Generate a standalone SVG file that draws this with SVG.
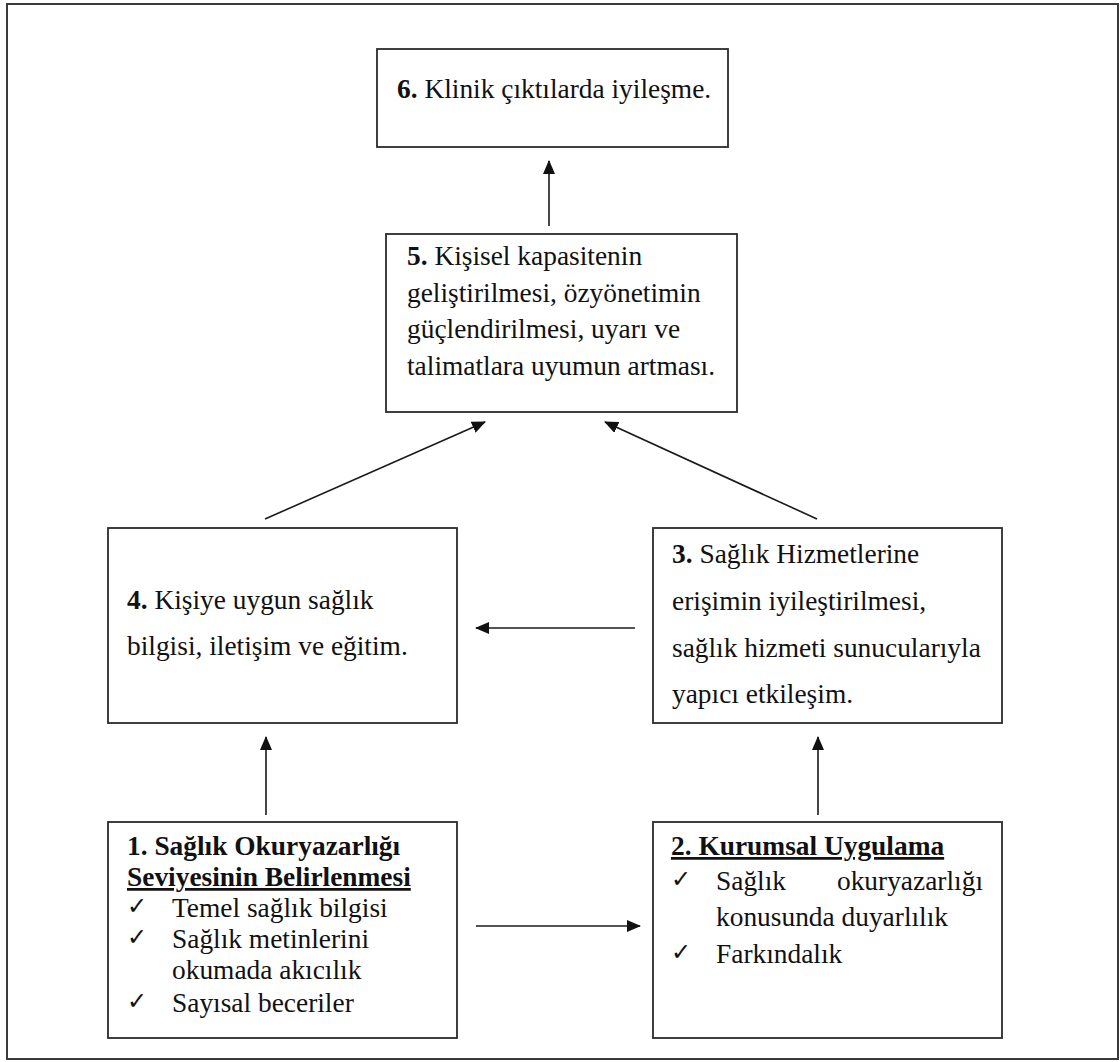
<svg xmlns="http://www.w3.org/2000/svg" width="1120" height="1062" viewBox="0 0 1120 1062">
  <style>
    .frame { fill: none; stroke: #3a3a3a; stroke-width: 2; }
    .box { fill: #ffffff; stroke: #2b2b2b; stroke-width: 1.8; }
    .link { fill: none; stroke: #1a1a1a; stroke-width: 1.6; }
    .t { font-family: "Liberation Serif", "Times New Roman", serif; font-size: 27.4px; fill: #111111; }
    .b { font-weight: bold; }
    .u { text-decoration: underline; }
    .chk { font-family: "DejaVu Sans", sans-serif; font-size: 24px; fill: #111111; }
  </style>
  <defs>
    <marker id="head" markerUnits="userSpaceOnUse" markerWidth="14" markerHeight="12" viewBox="0 0 14 12" refX="13" refY="6" orient="auto">
      <path d="M0,0 L14,6 L0,12 Z" fill="#111111"/>
    </marker>
  </defs>

  <rect width="1120" height="1062" fill="#ffffff"/>
  <rect class="frame" x="7" y="4" width="1111" height="1055"/>

  <g id="connectors">
    <line class="link" x1="549" y1="226" x2="549" y2="161" marker-end="url(#head)"/>
    <line class="link" x1="265" y1="519" x2="485" y2="422" marker-end="url(#head)"/>
    <line class="link" x1="817" y1="519" x2="605" y2="422" marker-end="url(#head)"/>
    <line class="link" x1="635" y1="628" x2="476" y2="628" marker-end="url(#head)"/>
    <line class="link" x1="266" y1="815" x2="266" y2="737" marker-end="url(#head)"/>
    <line class="link" x1="818" y1="815" x2="818" y2="737" marker-end="url(#head)"/>
    <line class="link" x1="476" y1="926" x2="640" y2="926" marker-end="url(#head)"/>
  </g>

  <g id="node6">
    <rect class="box" x="377" y="49" width="351" height="98"/>
    <text class="t" x="397" y="98"><tspan class="b">6.</tspan> Klinik çıktılarda iyileşme.</text>
  </g>

  <g id="node5">
    <rect class="box" x="386" y="234" width="351" height="178"/>
    <text class="t" x="407" y="265"><tspan class="b">5.</tspan> Kişisel kapasitenin</text>
    <text class="t" x="407" y="302">geliştirilmesi, özyönetimin</text>
    <text class="t" x="407" y="338">güçlendirilmesi, uyarı ve</text>
    <text class="t" x="407" y="375">talimatlara uyumun artması.</text>
  </g>

  <g id="node4">
    <rect class="box" x="108" y="528" width="349" height="195"/>
    <text class="t" x="127" y="609"><tspan class="b">4.</tspan> Kişiye uygun sağlık</text>
    <text class="t" x="127" y="655">bilgisi, iletişim ve eğitim.</text>
  </g>

  <g id="node3">
    <rect class="box" x="653" y="528" width="349" height="195"/>
    <text class="t" x="672" y="563"><tspan class="b">3.</tspan> Sağlık Hizmetlerine</text>
    <text class="t" x="672" y="610">erişimin iyileştirilmesi,</text>
    <text class="t" x="672" y="657">sağlık hizmeti sunucularıyla</text>
    <text class="t" x="672" y="703">yapıcı etkileşim.</text>
  </g>

  <g id="node1">
    <rect class="box" x="108" y="822" width="349" height="216"/>
    <text class="t b" x="127" y="855">1. Sağlık Okuryazarlığı</text>
    <text class="t b u" x="127" y="886">Seviyesinin Belirlenmesi</text>
    <text class="chk" x="127" y="914">✓</text>
    <text class="t" x="172" y="917">Temel sağlık bilgisi</text>
    <text class="chk" x="127" y="945">✓</text>
    <text class="t" x="172" y="948">Sağlık metinlerini</text>
    <text class="t" x="172" y="979">okumada akıcılık</text>
    <text class="chk" x="127" y="1009">✓</text>
    <text class="t" x="172" y="1012">Sayısal beceriler</text>
  </g>

  <g id="node2">
    <rect class="box" x="653" y="822" width="349" height="216"/>
    <text class="t b u" x="671" y="855">2. Kurumsal Uygulama</text>
    <text class="chk" x="671" y="887">✓</text>
    <text class="t" x="716" y="890">Sağlık</text>
    <text class="t" x="983" y="890" text-anchor="end">okuryazarlığı</text>
    <text class="t" x="716" y="926">konusunda duyarlılık</text>
    <text class="chk" x="671" y="960">✓</text>
    <text class="t" x="716" y="963">Farkındalık</text>
  </g>
</svg>
